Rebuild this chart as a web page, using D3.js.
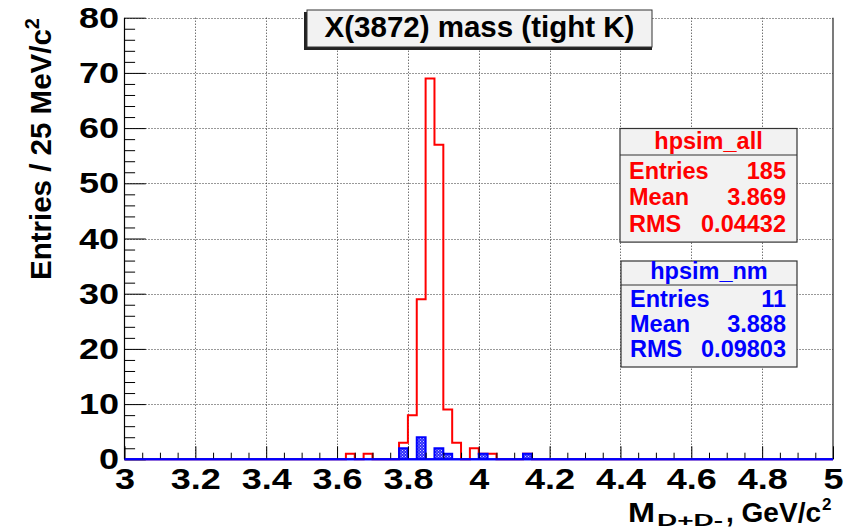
<!DOCTYPE html>
<html><head><meta charset="utf-8">
<script src="https://cdn.jsdelivr.net/npm/d3@7"></script>
<style>
html,body{margin:0;padding:0;background:#fff;}
svg{display:block;font-family:"Liberation Sans",Arial,Helvetica,sans-serif;font-weight:bold;}
</style></head>
<body>
<svg id="c" width="852" height="532"></svg>
<script>
// ---- data ----
const xDomain = [3, 5];
const yDomain = [0, 80];
const binWidth = 0.025;
// hpsim_all (red outline histogram): lower bin edges and counts (non-empty bins)
const allBinLow = [3.625, 3.675, 3.775, 3.8, 3.825, 3.85, 3.875, 3.9, 3.925, 3.975, 4.0, 4.025, 4.125];
const allCounts = [1, 1, 3, 8, 29, 69, 57, 9, 3, 2, 1, 1, 1];
// hpsim_nm (blue hatched histogram)
const nmBinLow = [3.775, 3.825, 3.875, 3.9, 4.0, 4.125];
const nmCounts = [2, 4, 2, 1, 1, 1];
// ticks
const xMajor = [3, 3.2, 3.4, 3.6, 3.8, 4, 4.2, 4.4, 4.6, 4.8, 5];
const xTickLabels = ["3", "3.2", "3.4", "3.6", "3.8", "4", "4.2", "4.4", "4.6", "4.8", "5"];
const xMinor = [3.05,3.1,3.15,3.25,3.3,3.35,3.45,3.5,3.55,3.65,3.7,3.75,3.85,3.9,3.95,4.05,4.1,4.15,4.25,4.3,4.35,4.45,4.5,4.55,4.65,4.7,4.75,4.85,4.9,4.95];
const yMajor = [0, 10, 20, 30, 40, 50, 60, 70, 80];
const yTickLabels = ["0", "10", "20", "30", "40", "50", "60", "70", "80"];
const yMinor = [2,4,6,8,12,14,16,18,22,24,26,28,32,34,36,38,42,44,46,48,52,54,56,58,62,64,66,68,72,74,76,78];
// texts
const titleText = "X(3872) mass (tight K)";
const statsAll = {name: "hpsim_all", rows: [["Entries", "185"], ["Mean", "3.869"], ["RMS", "0.04432"]]};
const statsNm = {name: "hpsim_nm", rows: [["Entries", "11"], ["Mean", "3.888"], ["RMS", "0.09803"]]};

// ---- layout ----
const L = 124.5, R = 833, T = 17.7, B = 459.3;
const svg = d3.select("#c");
const x = d3.scaleLinear().domain(xDomain).range([L, R]);
const y = d3.scaleLinear().domain(yDomain).range([B, T]);

// pattern for blue fill
const defs = svg.append("defs");
const pat = defs.append("pattern").attr("id", "hatch").attr("patternUnits", "userSpaceOnUse")
  .attr("width", 3).attr("height", 3);
pat.append("rect").attr("width", 3).attr("height", 3).attr("fill", "#3030ff");
pat.append("rect").attr("x", 0).attr("y", 0).attr("width", 1).attr("height", 1).attr("fill", "#d0d0ff");
pat.append("rect").attr("x", 1.5).attr("y", 1.5).attr("width", 1).attr("height", 1).attr("fill", "#b0b0f0");

// grid
const grid = svg.append("g").attr("stroke", "#333").attr("stroke-width", 1).attr("stroke-dasharray", "1,2");
grid.selectAll(".gx").data(xMajor.filter(v => v > xDomain[0] && v < xDomain[1])).join("line")
  .attr("x1", d => Math.round(x(d)) + 0.5).attr("x2", d => Math.round(x(d)) + 0.5)
  .attr("y1", T).attr("y2", B);
grid.selectAll(".gy").data(yMajor.filter(v => v > 0)).join("line")
  .attr("y1", d => Math.round(y(d)) + 0.5).attr("y2", d => Math.round(y(d)) + 0.5)
  .attr("x1", L).attr("x2", R);

// right frame
svg.append("line").attr("x1", R).attr("x2", R).attr("y1", T).attr("y2", B).attr("stroke", "#222").attr("stroke-width", 1.2);

// histogram outline (step contour over the full binning)
const edges = d3.range(0, Math.round((xDomain[1] - xDomain[0]) / binWidth)).map(i => xDomain[0] + i * binWidth);
function stepPoints(lows, counts) {
  const lookup = new Map(lows.map((l, i) => [Math.round(l / binWidth), counts[i]]));
  const pts = [[x(xDomain[0]), y(0)]];
  edges.forEach(lo => {
    const c = lookup.get(Math.round(lo / binWidth)) || 0;
    pts.push([x(lo), y(c)]);
    pts.push([x(lo + binWidth), y(c)]);
  });
  pts.push([x(xDomain[1]), y(0)]);
  return pts;
}
const line = d3.line();

// red histogram
svg.append("path").attr("d", line(stepPoints(allBinLow, allCounts)))
  .attr("fill", "none").attr("stroke", "#ff0000").attr("stroke-width", 2);

// blue histogram: filled contour + outline
svg.append("path").attr("d", line(stepPoints(nmBinLow, nmCounts)) + "Z")
  .attr("fill", "url(#hatch)").attr("stroke", "#0000ff").attr("stroke-width", 2);

// axes
const textScale = 1.2;
svg.append("g").attr("transform", `translate(0,${B})`)
  .call(d3.axisBottom(x).tickValues(xMajor).tickSize(-13).tickPadding(8)
    .tickFormat((d, i) => xTickLabels[i]));
svg.append("g").attr("transform", `translate(0,${B})`)
  .call(d3.axisBottom(x).tickValues(xMinor).tickSize(-6.6).tickFormat(""));
svg.append("g").attr("transform", `translate(${L},0)`)
  .call(d3.axisLeft(y).tickValues(yMajor).tickSize(-21.3).tickPadding(4.5)
    .tickFormat((d, i) => yTickLabels[i]));
svg.append("g").attr("transform", `translate(${L},0)`)
  .call(d3.axisLeft(y).tickValues(yMinor).tickSize(-10.6).tickFormat(""));
svg.selectAll(".domain").attr("stroke", "none");
svg.selectAll(".tick line").attr("stroke", "#000").attr("stroke-width", 1);
svg.selectAll(".tick text").attr("font-family", "Liberation Sans, Arial, sans-serif")
  .attr("font-weight", "bold").attr("font-size", 30).attr("fill", "#000")
  .attr("transform", `scale(${textScale},1)`);
// left axis line
svg.append("line").attr("x1", L).attr("x2", L).attr("y1", T).attr("y2", B).attr("stroke", "#000").attr("stroke-width", 1.2);
// blue baseline on top
svg.append("line").attr("x1", L).attr("x2", R).attr("y1", B).attr("y2", B).attr("stroke", "#0000ff").attr("stroke-width", 2);

// y title
const yt = svg.append("text").attr("transform", `translate(51,18) rotate(-90)`)
  .attr("text-anchor", "end").attr("font-size", 29.5).attr("fill", "#000");
yt.append("tspan").text("Entries / 25 MeV/c");
yt.append("tspan").attr("font-size", 20).attr("dy", -12).text("2");

// x title (pieces)
const xtBase = 522;
svg.append("text").attr("x", 628).attr("y", xtBase).attr("font-size", 28).attr("fill", "#000")
  .attr("textLength", 27).attr("lengthAdjust", "spacingAndGlyphs").text("M");
svg.append("text").attr("x", 657).attr("y", 526).attr("font-size", 16).attr("fill", "#000")
  .attr("textLength", 66).attr("lengthAdjust", "spacingAndGlyphs").text("D+D-");
svg.append("text").attr("x", 726).attr("y", xtBase).attr("font-size", 28).attr("fill", "#000")
  .attr("textLength", 95).attr("lengthAdjust", "spacingAndGlyphs").text(", GeV/c");
svg.append("text").attr("x", 822).attr("y", 510).attr("font-size", 17).attr("fill", "#000").text("2");

// title box
svg.append("rect").attr("x", 304).attr("y", 12).attr("width", 348).attr("height", 38).attr("fill", "#222");
svg.append("rect").attr("x", 307).attr("y", 10).attr("width", 345).attr("height", 37)
  .attr("fill", "#f2f2f2").attr("stroke", "#333").attr("stroke-width", 1);
svg.append("text").attr("x", 479.5).attr("y", 37).attr("text-anchor", "middle")
  .attr("font-size", 29.5).attr("fill", "#000").text(titleText);

// stats boxes
function statsBox(s, color, bx, by, bw, hh, rowBase, rowStep) {
  const g = svg.append("g");
  g.append("rect").attr("x", bx).attr("y", by).attr("width", bw).attr("height", hh + 3 * rowStep + 7)
    .attr("fill", "#f2f2f2").attr("stroke", "#333").attr("stroke-width", 1.2);
  g.append("line").attr("x1", bx).attr("x2", bx + bw).attr("y1", by + hh).attr("y2", by + hh)
    .attr("stroke", "#333").attr("stroke-width", 1.2);
  g.append("text").attr("x", bx + bw / 2).attr("y", by + hh - 6.5).attr("text-anchor", "middle")
    .attr("font-size", 23.5).attr("fill", color).text(s.name);
  s.rows.forEach((r, i) => {
    g.append("text").attr("x", bx + 9).attr("y", rowBase + i * rowStep).attr("font-size", 23.5)
      .attr("fill", color).text(r[0]);
    g.append("text").attr("x", bx + bw - 11).attr("y", rowBase + i * rowStep).attr("text-anchor", "end")
      .attr("font-size", 23.5).attr("fill", color).text(r[1]);
  });
}
statsBox(statsAll, "#ff0000", 620, 128.5, 177, 26.5, 178.5, 26.7);
statsBox(statsNm, "#0000ff", 621, 261, 176, 24, 306.5, 25);
</script>
</body></html>
